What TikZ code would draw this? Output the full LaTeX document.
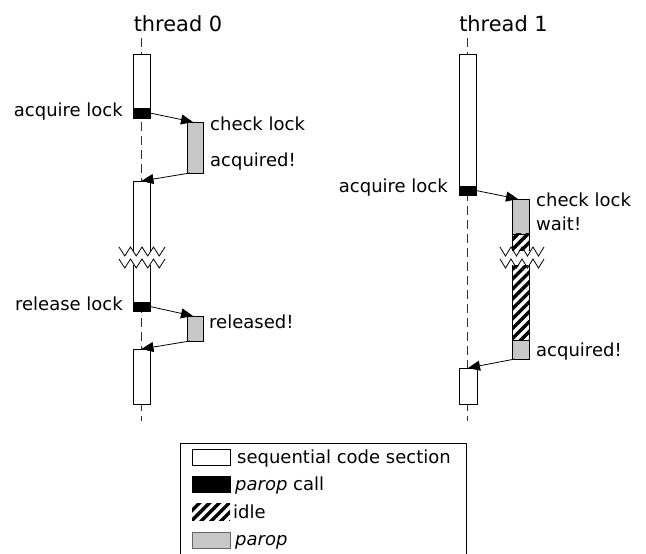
\documentclass[tikz,border=0pt]{standalone}
\usepackage{fontspec}
\setmainfont{DejaVu Sans}
\usetikzlibrary{arrows.meta,patterns.meta}
\tikzset{
  box/.style={draw, line width=0.9bp, inner sep=0pt, minimum width=17bp, anchor=north west, outer sep=0pt},
  seqbox/.style={box, fill=white},
  callbox/.style={box, fill=black},
  opbox/.style={box, fill=black!22, minimum width=16bp},
  hatch/.style={pattern={Lines[angle=45,distance=7bp,line width=3.4bp]}},
  idlebox/.style={box, minimum width=17bp, hatch},
  lifeline/.style={dash pattern=on 9bp off 5bp, line width=0.9bp, black!80},
  msg/.style={line width=0.8bp, -{Triangle[length=12bp,width=10bp]}},
  lbl/.style={font=\fontsize{18bp}{20bp}\selectfont, inner sep=0pt, anchor=base west},
  lblr/.style={lbl, anchor=base east},
  ttl/.style={font=\fontsize{20.9bp}{24bp}\selectfont, inner sep=0pt, anchor=base},
  zig/.style={line width=0.8bp},
}
\begin{document}
\begin{tikzpicture}[x=1bp,y=-1bp]
\useasboundingbox (0,0) rectangle (646,554);
% titles
\node[ttl] (t0) at (178,32) {thread 0};
\node[ttl] (t1) at (503.5,32) {thread 1};
% lifelines
\coordinate (l0a) at (141.5,38); \coordinate (l0b) at (141.5,421);
\coordinate (l1a) at (467.5,38); \coordinate (l1b) at (467.5,421);
\draw[lifeline] (l0a) -- (l0b);
\draw[lifeline] (l1a) -- (l1b);
% thread 0 boxes
\node[seqbox, minimum height=54bp] (a0) at (133,54) {};
\node[callbox, minimum height=10bp] (k0) at (133,108) {};
\node[seqbox, minimum height=121bp] (b0) at (133,181) {};
\node[callbox, minimum height=9bp] (r0) at (133,302) {};
\node[seqbox, minimum height=55bp] (c0) at (133,349) {};
\node[opbox, minimum height=51bp] (g1) at (187,122) {};
\node[opbox, minimum height=25bp] (g2) at (187,316) {};
% thread 1 boxes
\node[seqbox, minimum height=132bp] (a1) at (459,54) {};
\node[callbox, minimum height=9bp] (k1) at (459,186) {};
\node[opbox, minimum height=35bp, minimum width=17bp] (g3) at (512,199) {};
\node[idlebox, minimum height=106bp] (h1) at (512,234) {};
\node[opbox, minimum height=19bp, minimum width=17bp] (g4) at (512,340) {};
\node[seqbox, minimum height=36bp, minimum width=18bp] (c1) at (459,368) {};
% breaks
\fill[white] (118,251) -- (166,251) -- (166,265) -- (118,265) -- cycle;
\draw[zig] (119,247) -- (124.75,256) -- (130.5,247) -- (136.25,256) -- (142,247) -- (147.75,256) -- (153.5,247) -- (159.25,256) -- (165,247);
\draw[zig] (119,259) -- (124.75,268) -- (130.5,259) -- (136.25,268) -- (142,259) -- (147.75,268) -- (153.5,259) -- (159.25,268) -- (165,259);
\fill[white] (499,251) -- (545,251) -- (545,265) -- (499,265) -- cycle;
\draw[zig] (500,247) -- (505.5,256) -- (511,247) -- (516.5,256) -- (522,247) -- (527.5,256) -- (533,247) -- (538.5,256) -- (544,247);
\draw[zig] (500,259) -- (505.5,268) -- (511,259) -- (516.5,268) -- (522,259) -- (527.5,268) -- (533,259) -- (538.5,268) -- (544,259);
% messages
\draw[msg] (k0.east) -- ([xshift=6bp]g1.north west);
\draw[msg] ([xshift=3bp]g1.south west) -- (b0.north);
\draw[msg] (r0.east) -- ([xshift=6bp]g2.north west);
\draw[msg] ([xshift=3bp]g2.south west) -- (c0.north);
\draw[msg] (k1.east) -- ([xshift=6bp]g3.north west);
\draw[msg] ([xshift=3bp]g4.south west) -- (c1.north);
% labels
\node[lblr] (la0) at (123,117) {acquire lock};
\node[lbl] (lc0) at (210,131) {check lock};
\node[lbl] (lq0) at (210,167) {acquired!};
\node[lblr] (lr0) at (123,310) {release lock};
\node[lbl] (ld0) at (209,328) {released!};
\node[lblr] (la1) at (448,193) {acquire lock};
\node[lbl] (lc1) at (536,207) {check lock};
\node[lbl] (lw1) at (536,231) {wait!};
\node[lbl] (lq1) at (536,356) {acquired!};
% legend
\node[draw, line width=0.9bp, inner sep=0pt, minimum width=286bp, minimum height=120bp, anchor=north west] (leg) at (180,443) {};
\node[seqbox, minimum width=38bp, minimum height=16bp, line width=0.7bp] (s1) at (192,449) {};
\node[callbox, minimum width=38bp, minimum height=16bp, line width=0.7bp] (s2) at (192,476) {};
\node[inner sep=0pt, outer sep=0pt, minimum width=38bp, minimum height=17bp, anchor=north west, hatch] (s3) at (192,503) {};
\node[opbox, draw=black!60, minimum width=38bp, minimum height=16bp, line width=0.7bp] (s4) at (192,532) {};
\node[lbl] (e1) at (237,463) {sequential code section};
\node[lbl] (e2) at (235,490) {\itshape parop\upshape{} call};
\node[lbl] (e3) at (233,518) {idle};
\node[lbl] (e4) at (235,545) {\itshape parop};
\end{tikzpicture}
\end{document}
